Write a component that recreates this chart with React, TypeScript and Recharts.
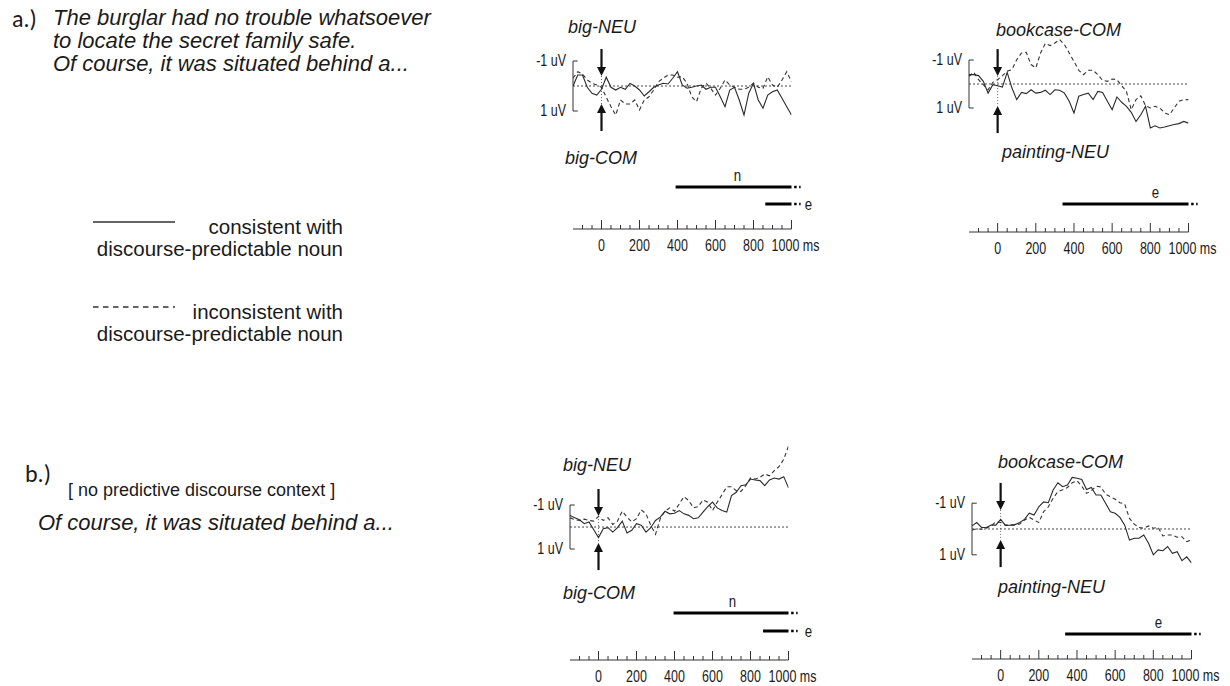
import React from "react";
import { LineChart, Line, XAxis, YAxis, ReferenceLine, ReferenceDot } from "recharts";

// sample times (ms) of the averaged waveforms
const TIMES = [
  -150, -125, -100, -75, -50, -25, 0, 25, 50, 75, 100, 125, 150, 175, 200, 225, 250, 275, 300, 325, 350, 375, 400,
  425, 450, 475, 500, 525, 550, 575, 600, 625, 650, 675, 700, 725, 750, 775, 800, 825, 850, 875, 900, 925, 950, 975,
  1000,
];

// time axis ticks (ms)
const TICK_MS = [
  -100, -50, 0, 50, 100, 150, 200, 250, 300, 350, 400, 450, 500, 550, 600, 650, 700, 750, 800, 850, 900, 950, 1000,
];

// a.) discourse context — amplitudes in uV (negative up)
const A_BIG_SOLID = [
  0, -0.44, -0.44, 0.05, 0.29, 0.36, 0.13, -0.35, 0.05, 0.16, 0.05, 0.13, -0.1, 0, 0.16, 0.4, 0.23, 0.05, -0.04, -0.11,
  -0.08, -0.31, -0.57, -0.04, 0.09, 0.05, 0, -0.04, 0.13, 0.05, 0.05, 0.43, 0.83, 0.16, 0.05, 0.56, 1.16, 0.29, -0.11,
  0.56, 0.89, 0.36, 0.23, 0.16, 0.49, 0.83, 1.16,
];
const A_BIG_DASHED = [
  -0.31, -0.57, -0.48, -0.24, -0.11, -0.04, 0.05, 0.45, 0.83, 1.16, 0.56, 0.72, 0.72, 0.56, 0.96, 0.56, 0.43, 0.16,
  -0.17, -0.31, -0.44, -0.44, -0.35, -0.37, -0.11, 0.43, 0.63, 0.09, -0.11, 0.09, 0.36, 0.09, -0.24, -0.04, 0.05, 0.13,
  0.13, 0.05, -0.11, 0.05, 0.09, -0.37, -0.04, 0.05, -0.24, -0.57, -0.17,
];
const A_BOOK_SOLID = [
  -0.39, -0.39, -0.35, -0.11, 0.38, 0.03, 0.07, 0.13, -0.49, 0.17, 0.65, 0.35, 0.4, 0.24, 0.38, 0.35, 0.26, 0.44, 0.24,
  0.26, 0.38, 0.72, 1.21, 0.51, 0.44, 0.38, 0.65, 0.31, 0.35, 0.72, 1.07, 0.54, 0.76, 0.93, 1.18, 1.56, 1.28, 0.93,
  1.83, 1.74, 1.83, 1.79, 1.74, 1.69, 1.65, 1.56, 1.63,
];
const A_BOOK_DASHED = [
  -0.32, -0.49, -0.18, 0.03, 0.24, -0.07, -0.18, -0.35, -0.53, -0.6, -1.01, -1.29, -1.32, -0.81, -0.67, -1.29, -1.69,
  -1.6, -1.71, -1.85, -1.64, -1.29, -0.94, -0.57, -0.39, -0.57, -0.57, -0.39, -0.15, -0.11, -0.21, -0.18, 0.07, 0.31,
  1.07, 0.65, 0.49, 0.9, 1.0, 0.93, 1.0, 1.21, 1.28, 1.0, 0.72, 0.65, 0.65,
];

// b.) no predictive context
const B_BIG_SOLID = [
  -0.53, -0.42, -0.33, -0.15, -0.23, 0.12, 0.48, 0.08, 0.03, 0.23, 0.03, -0.27, 0.27, 0.15, -0.15, -0.08, 0.23, 0.03,
  -0.3, -0.45, -0.72, -0.6, -0.63, -0.75, -0.6, -0.53, -0.38, -0.42, -0.68, -0.93, -1.13, -0.87, -0.75, -0.68, -1.43,
  -1.58, -1.88, -1.92, -2.18, -2.14, -2.11, -1.88, -2.14, -2.23, -2.18, -2.29, -1.78,
];
const B_BIG_DASHED = [
  -0.42, -0.33, -0.3, -0.36, -0.3, -0.27, -0.48, -0.3, -0.42, -0.12, -0.27, -0.72, -0.45, -0.23, -0.38, -0.78, -0.6,
  -0.08, 0.33, -0.38, -0.72, -0.87, -0.72, -1.05, -1.38, -1.2, -0.87, -0.93, -1.23, -1.13, -0.75, -1.13, -1.47, -1.83,
  -1.83, -1.65, -1.62, -1.88, -2.23, -2.18, -2.26, -2.41, -2.33, -2.56, -2.74, -3.08, -3.68,
];
const B_BOOK_SOLID = [
  -0.12, -0.25, -0.06, -0.06, -0.15, -0.15, -0.37, -0.14, -0.15, -0.17, -0.25, -0.37, -0.61, -0.54, -0.86, -1.05,
  -1.02, -1.51, -1.79, -1.64, -1.7, -2.0, -1.97, -1.92, -1.53, -1.61, -1.32, -1.32, -1.0, -0.67, -0.61, -0.45, -0.15,
  0.43, 0.36, 0.36, 0.23, 0.55, 1.0, 0.81, 0.84, 0.68, 0.94, 0.88, 1.23, 1.08, 1.31,
];
const B_BOOK_DASHED = [
  0.04, -0.01, 0.01, -0.03, -0.12, -0.28, -0.25, -0.15, -0.15, -0.15, -0.19, -0.35, -0.45, -0.35, -0.25, -0.67, -0.86,
  -1.19, -1.45, -1.52, -1.61, -1.79, -1.87, -1.66, -1.38, -1.48, -1.66, -1.63, -1.35, -1.25, -1.15, -1.02, -0.97,
  -0.41, -0.19, -0.06, -0.03, -0.12, -0.03, -0.06, 0.27, 0.23, 0.23, 0.32, 0.3, 0.49, 0.43,
];

// significant windows (ms), n = N400, e = early/late effect
const SIG_A_BIG = [
  { effect: "n", from: 390, to: 1000, labelAt: 716 },
  { effect: "e", from: 862, to: 1000, labelAt: 1089 },
];
const SIG_A_BOOK = [{ effect: "e", from: 340, to: 1000, labelAt: 827 }];
const SIG_B_BIG = [
  { effect: "n", from: 395, to: 1000, labelAt: 705 },
  { effect: "e", from: 866, to: 1000, labelAt: 1105 },
];
const SIG_B_BOOK = [{ effect: "e", from: 338, to: 1000, labelAt: 827 }];

const SANS = '"Liberation Sans", Arial, Helvetica, sans-serif';
const INK = "#1a1a1a";
const AXIS_W = 50;
const SQUEEZE = 0.78; // narrow look of the original axis lettering

function NarrowText({ x, y, size, anchor = "middle", children }: any) {
  return (
    <text
      transform={`translate(${x},${y}) scale(${SQUEEZE},1)`}
      textAnchor={anchor}
      fontSize={size}
      fontFamily={SANS}
      fill={INK}
    >
      {children}
    </text>
  );
}

function Label({ x, y, size, italic, family = SANS, children }: any) {
  return (
    <div
      style={{
        position: "absolute",
        left: x,
        top: y - size * 0.52,
        fontSize: size,
        lineHeight: 1,
        fontStyle: italic ? "italic" : "normal",
        fontFamily: family,
        color: INK,
        whiteSpace: "nowrap",
      }}
    >
      {children}
    </div>
  );
}

const arrow = (dir: "down" | "up") => (p: any) => {
  const { cx, cy } = p;
  const s = dir === "down" ? -1 : 1;
  return (
    <g>
      <line x1={cx} y1={cy + s * 8} x2={cx} y2={cy + s * 27} stroke="#111" strokeWidth={2.2} />
      <polygon points={`${cx - 4.5},${cy + s * 9} ${cx + 4.5},${cy + s * 9} ${cx},${cy}`} fill="#111" />
    </g>
  );
};

function UvTick({ x, y, payload }: any) {
  return (
    <NarrowText x={x - 7} y={y + 5} size={16} anchor="end">
      {`${payload.value} uV`}
    </NarrowText>
  );
}

function WavePanel({ x0, x1, yTop, yBottom, yDomain, solid, dashed, downTip, upTip }: any) {
  const data = TIMES.map((t, i) => ({ t, solid: solid[i], dashed: dashed[i] }));
  return (
    <div style={{ position: "absolute", left: x0 - AXIS_W, top: yTop }}>
      <LineChart
        width={x1 - x0 + AXIS_W + 6}
        height={yBottom - yTop}
        data={data}
        margin={{ top: 0, right: 6, bottom: 0, left: 0 }}
      >
        <XAxis type="number" dataKey="t" domain={[-150, 1000]} hide allowDataOverflow />
        <YAxis
          type="number"
          domain={yDomain}
          reversed
          allowDataOverflow
          ticks={[-1, 1]}
          interval={0}
          axisLine={false}
          tickLine={false}
          tickSize={0}
          tickMargin={0}
          width={AXIS_W}
          tick={<UvTick />}
        />
        <ReferenceLine y={0} stroke="#333" strokeWidth={0.9} strokeDasharray="2 2" />
        <ReferenceLine segment={[{ x: -150, y: -1 }, { x: -150, y: 1 }]} stroke="#333" strokeWidth={1} />
        <ReferenceLine segment={[{ x: -150, y: -1 }, { x: -125, y: -1 }]} stroke="#333" strokeWidth={1} />
        <ReferenceLine segment={[{ x: -150, y: 1 }, { x: -125, y: 1 }]} stroke="#333" strokeWidth={1} />
        <ReferenceLine segment={[{ x: 0, y: downTip }, { x: 0, y: upTip }]} stroke="#444" strokeWidth={0.8} strokeDasharray="1 2" />
        <Line type="linear" dataKey="dashed" stroke="#333" strokeWidth={1.1} strokeDasharray="4 3" dot={false} isAnimationActive={false} />
        <Line type="linear" dataKey="solid" stroke="#2a2a2a" strokeWidth={1.1} dot={false} isAnimationActive={false} />
        <ReferenceDot x={0} y={downTip} r={0} ifOverflow="visible" shape={arrow("down")} />
        <ReferenceDot x={0} y={upTip} r={0} ifOverflow="visible" shape={arrow("up")} />
      </LineChart>
    </div>
  );
}

function TimeTick({ x, y, payload }: any) {
  const v = payload.value;
  const major = v % 200 === 0;
  return (
    <g>
      <line x1={x} y1={y} x2={x} y2={y - (major ? 9 : 4)} stroke="#333" strokeWidth={1} />
      {major && (
        <NarrowText x={v === 1000 ? x + 4 : x} y={y + 22} size={16}>
          {v === 1000 ? "1000 ms" : String(v)}
        </NarrowText>
      )}
    </g>
  );
}

const effectLabel = (w: any) => (p: any) => {
  const { cx, cy } = p;
  const beside = w.labelAt > w.to;
  return (
    <NarrowText x={cx} y={beside ? cy + 5.5 : cy - 6} size={17}>
      {w.effect}
    </NarrowText>
  );
};

function TimePanel({ x0, x1, plotTop, axisY, rowPx, windows }: any) {
  const plotH = axisY - plotTop;
  const headroom = 24;
  const rowOf = (e: string) => (e === "n" ? 1 : 2);
  return (
    <div style={{ position: "absolute", left: x0 - AXIS_W, top: plotTop - headroom }}>
      <LineChart
        width={x1 - x0 + AXIS_W + 45}
        height={plotH + headroom + 26}
        data={TICK_MS.map((t) => ({ t }))}
        margin={{ top: headroom, right: 45, bottom: 0, left: AXIS_W }}
      >
        <XAxis
          type="number"
          dataKey="t"
          domain={[-150, 1000]}
          allowDataOverflow
          ticks={TICK_MS}
          interval={0}
          tickSize={0}
          tickMargin={0}
          tickLine={false}
          axisLine={{ stroke: "#333", strokeWidth: 1 }}
          tick={<TimeTick />}
          height={26}
        />
        <YAxis type="number" domain={[0, plotH / rowPx]} reversed hide allowDataOverflow />
        {windows.map((w: any) => (
          <ReferenceLine
            key={w.effect + "bar"}
            segment={[{ x: w.from, y: rowOf(w.effect) }, { x: w.to, y: rowOf(w.effect) }]}
            stroke="#000"
            strokeWidth={3}
          />
        ))}
        {windows.map((w: any) => (
          <ReferenceLine
            key={w.effect + "dots"}
            segment={[{ x: w.to + 14, y: rowOf(w.effect) }, { x: w.to + 48, y: rowOf(w.effect) }]}
            stroke="#000"
            strokeWidth={2.5}
            strokeDasharray="2.5 2.5"
            ifOverflow="visible"
          />
        ))}
        {windows.map((w: any) => (
          <ReferenceDot
            key={w.effect + "lab"}
            x={w.labelAt}
            y={rowOf(w.effect)}
            r={0}
            ifOverflow="visible"
            shape={effectLabel(w)}
          />
        ))}
      </LineChart>
    </div>
  );
}

function LegendKey({ top, dashed }: any) {
  return (
    <svg style={{ position: "absolute", left: 93, top: top - 2 }} width={84} height={4}>
      <line x1={0} y1={2} x2={82} y2={2} stroke="#333" strokeWidth={1.3} strokeDasharray={dashed ? "5.5 4.5" : undefined} />
    </svg>
  );
}

const legendText: React.CSSProperties = {
  position: "absolute",
  left: 83,
  width: 260,
  textAlign: "right",
  fontSize: 20.5,
  lineHeight: "22px",
  color: INK,
  whiteSpace: "nowrap",
};

export default function App() {
  return (
    <div
      style={{
        position: "absolute",
        left: 0,
        top: 0,
        width: 1230,
        height: 686,
        background: "#fff",
        overflow: "hidden",
        fontFamily: SANS,
      }}
    >
      {/* left column text */}
      <Label x={12} y={19} size={24} family='Carlito, Lato, "Open Sans", sans-serif'>a.)</Label>
      <Label x={53} y={18} size={22} italic>The burglar had no trouble whatsoever</Label>
      <Label x={53} y={41} size={22} italic>to locate the secret family safe.</Label>
      <Label x={53} y={64} size={22} italic>Of course, it was situated behind a...</Label>

      <LegendKey top={222} />
      <LegendKey top={307} dashed />
      <div style={{ ...legendText, top: 216 }}>
        consistent with
        <br />
        discourse-predictable noun
      </div>
      <div style={{ ...legendText, top: 301 }}>
        inconsistent with
        <br />
        discourse-predictable noun
      </div>

      <Label x={25} y={474} size={24} family='Carlito, Lato, "Open Sans", sans-serif'>b.)</Label>
      <Label x={68} y={490} size={18}>[ no predictive discourse context ]</Label>
      <Label x={38} y={523} size={22} italic>Of course, it was situated behind a...</Label>

      {/* a.) panels */}
      <Label x={568} y={27} size={18} italic>big-NEU</Label>
      <WavePanel x0={572.5} x1={791} yTop={40} yBottom={140} yDomain={[-1.84, 2.16]}
        solid={A_BIG_SOLID} dashed={A_BIG_DASHED} downTip={-0.4} upTip={0.72} />
      <Label x={565} y={158} size={18} italic>big-COM</Label>
      <TimePanel x0={572.5} x1={791} plotTop={170} axisY={229} rowPx={17} windows={SIG_A_BIG} />

      <Label x={996} y={30} size={18} italic>bookcase-COM</Label>
      <WavePanel x0={968.5} x1={1188} yTop={30} yBottom={140} yDomain={[-2.25, 2.333]}
        solid={A_BOOK_SOLID} dashed={A_BOOK_DASHED} downTip={-0.33} upTip={0.92} />
      <Label x={1002} y={152} size={18} italic>painting-NEU</Label>
      <TimePanel x0={968.5} x1={1188} plotTop={170} axisY={232} rowPx={17} windows={SIG_A_BOOK} />

      {/* b.) panels */}
      <Label x={563} y={465} size={18} italic>big-NEU</Label>
      <WavePanel x0={569.5} x1={788} yTop={430} yBottom={575} yDomain={[-4.41, 2.18]}
        solid={B_BIG_SOLID} dashed={B_BIG_DASHED} downTip={-0.5} upTip={0.73} />
      <Label x={563} y={593} size={18} italic>big-COM</Label>
      <TimePanel x0={569.5} x1={788} plotTop={595} axisY={660} rowPx={18} windows={SIG_B_BIG} />

      <Label x={998} y={462} size={18} italic>bookcase-COM</Label>
      <WavePanel x0={971.5} x1={1191} yTop={460} yBottom={575} yDomain={[-2.674, 1.783]}
        solid={B_BOOK_SOLID} dashed={B_BOOK_DASHED} downTip={-0.74} upTip={0.43} />
      <Label x={998} y={587} size={18} italic>painting-NEU</Label>
      <TimePanel x0={971.5} x1={1191} plotTop={598} axisY={659} rowPx={18} windows={SIG_B_BOOK} />
    </div>
  );
}
